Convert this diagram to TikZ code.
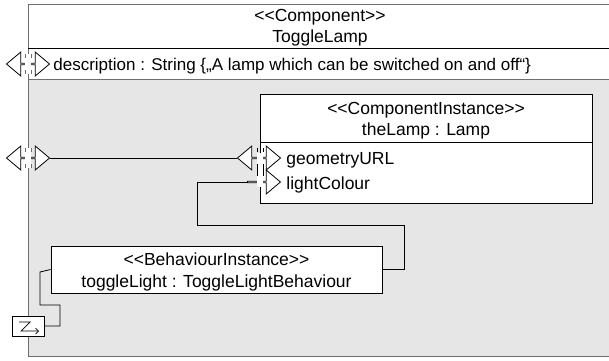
\documentclass[tikz,border=0pt]{standalone}
\usepackage{fontspec}
\setmainfont{Liberation Sans}
\usetikzlibrary{positioning,shapes.arrows,arrows.meta}
\definecolor{areagray}{HTML}{E6E6E6}
\definecolor{framegray}{HTML}{6E6E6E}
\newcommand{\stl}{<\kern0pt<}
\newcommand{\str}{>\kern0pt>}
\tikzset{
  box/.style={draw,fill=white,inner sep=0pt},
  lbl/.style={inner sep=0pt,font=\fontsize{17.5}{20}\selectfont},
  dport/.style={double arrow,draw,fill=white,inner sep=0pt,minimum width=24pt,minimum height=43pt,double arrow head extend=6pt,double arrow tip angle=80},
  sport/.style={single arrow,draw,fill=white,inner sep=0pt,minimum width=24pt,minimum height=33pt,single arrow head extend=6pt,single arrow tip angle=80},
  notch/.style={fill=white,inner sep=0pt,minimum width=6pt,minimum height=20pt},
  wire/.style={draw,line width=0.8pt}
}
\begin{document}
\begin{tikzpicture}[x=1pt,y=-1pt,line width=0.8pt]
\useasboundingbox (0,0) rectangle (609,360);
\clip (0,0) rectangle (609,360);
%the component frame
\fill[areagray] (28,79) rectangle (612,356);
\draw[framegray,line width=1pt] (612,4) -- (28,4) -- (28,356) -- (612,356);
\draw (28,48) -- (612,48);
\draw[framegray,line width=1pt] (28,79) -- (612,79);
\node[lbl,anchor=base] (stereo) at (320,21) {\stl Component\str};
\node[lbl,anchor=base] (compname) at (320,42) {ToggleLamp};
\node[lbl,anchor=base west,font=\fontsize{17}{20}\selectfont] (desc) at (53,70) {description : String \{„A lamp which can be switched on and off“\}};
%the inner instances
\node[box,minimum width=332pt,minimum height=109pt] (lamp) at (426,148.5) {};
\draw (260,142) -- (592,142);
\node[lbl,anchor=base] (lampstereo) at (426,114) {\stl ComponentInstance\str};
\node[lbl,anchor=base] (lampname) at (426,135) {theLamp : Lamp};
\node[lbl,anchor=base west] (geo) at (286,164) {geometryURL};
\node[lbl,anchor=base west] (colour) at (286,189) {lightColour};
\node[box,minimum width=331pt,minimum height=47pt] (behaviour) at (216.5,269.5) {};
\node[lbl,anchor=base] (behstereo) at (216.5,265) {\stl BehaviourInstance\str};
\node[lbl,anchor=base] (behname) at (216.5,287) {toggleLight : ToggleLightBehaviour};
%the ports
\node[dport] (descPort) at (28,64) {};
\node[notch] (descNotch) at (28,64) {};
\node[dport] (geoOuterPort) at (28,158) {};
\node[notch] (geoOuterNotch) at (28,158) {};
\node[dport] (geoPort) at (259,158) {};
\node[sport] (colourPort) at (263.5,182) {};
\node[notch,minimum height=34pt] (lampNotch) at (260,170) {};
\draw (257,148) -- (257,152) (263,148) -- (263,152) (257,164) -- (257,176) (263,164) -- (263,176);
\foreach \y in {64,158} {
  \draw[framegray,line width=1pt] (25,\y-10) -- (25,\y-6) (31,\y-10) -- (31,\y-6)
    (25,\y+6) -- (25,\y+10) (31,\y+6) -- (31,\y+10);
}
\node[box,minimum width=32pt,minimum height=20pt] (eventPort) at (28,326) {};
\draw[line width=0.7pt,-{Straight Barb[length=3pt]}] (19,322) -- (30,322) -- (21,331) -- (39,331);
%the connectors
\draw[wire] (geoOuterPort.east) -- (geoPort.west);
\draw[wire] (colourPort.tail) -- (197,182) -- (197,225) -- (404,225) |- (behaviour.east);
\draw[wire] (behaviour.west) -- (40,272) -- (40,305) -- (60,305) |- (eventPort.east);
\end{tikzpicture}
\end{document}
